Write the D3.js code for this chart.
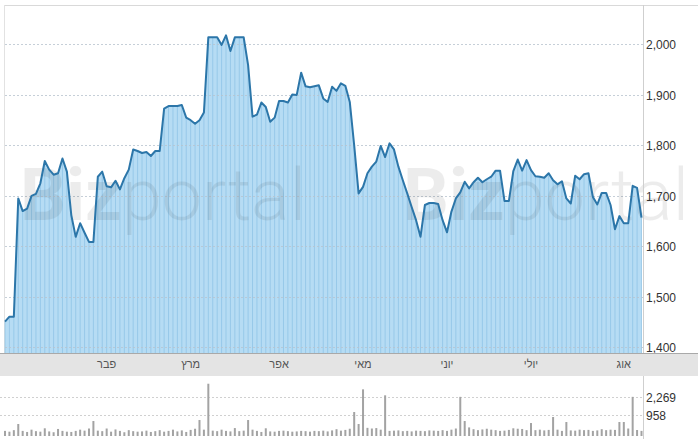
<!DOCTYPE html>
<html><head><meta charset="utf-8">
<script src="https://cdn.jsdelivr.net/npm/d3@7"></script>
<style>body{margin:0;background:#fff;} svg{display:block;}</style>
</head><body><svg id="c" width="698" height="439"></svg>
<script>
const prices = [1451,1461,1461,1695,1670,1675,1700,1704,1725,1769,
 1752,1742,1745,1774,1748,1662,1619,1646,1627,1609,
 1609,1738,1748,1719,1717,1730,1713,1735,1752,1792,
 1789,1785,1787,1779,1789,1789,1873,1878,1878,1878,
 1880,1855,1850,1843,1850,1865,2014,2014,2014,1999,
 2018,1987,2014,2014,2014,1959,1857,1861,1885,1876,
 1847,1855,1888,1888,1885,1901,1900,1944,1917,1915,
 1917,1919,1893,1886,1916,1908,1923,1918,1886,1800,
 1705,1718,1745,1758,1768,1799,1777,1804,1792,1758,
 1731,1705,1678,1652,1619,1682,1686,1686,1684,1652,
 1628,1669,1695,1707,1728,1715,1727,1736,1727,1733,
 1738,1750,1750,1690,1690,1749,1772,1750,1771,1751,
 1739,1738,1736,1745,1731,1723,1729,1695,1685,1740,
 1733,1743,1745,1698,1683,1706,1706,1682,1634,1660,
 1646,1646,1720,1716,1657];
const volumes = [150,120,180,469,150,110,200,140,120,260,
 130,100,230,150,120,110,150,200,160,250,
 630,160,140,250,120,210,150,100,180,140,
 120,130,160,110,140,180,120,150,200,130,
 170,110,190,240,687,200,3335,160,140,200,
 150,130,270,140,160,687,200,150,110,260,
 130,120,150,160,140,120,130,150,140,120,
 150,140,160,130,170,220,160,190,240,1180,
 469,2866,280,250,270,200,2388,150,160,170,
 140,150,130,160,150,140,170,160,150,180,
 150,200,250,2269,630,300,220,180,210,240,
 200,180,150,160,190,260,240,230,180,520,
 180,200,170,190,864,200,150,575,170,160,
 200,180,190,150,170,220,180,200,190,575,
 575,250,2269,186,150];
const priceTicks = [1400,1500,1600,1700,1800,1900,2000];
const volumeTicks = [958, 2269];
const monthLabels = ["פבר","מרץ","אפר","מאי","יוני","יולי","אוג"];
const monthIndex = [23, 42, 62, 81, 100, 119, 140];

const W = 698, H = 439;
const L = 5, R = 643, T = 5, B = 353;
const bandTop = 353, bandBot = 376, vTop = 377, vBot = 436;

const svg = d3.select("#c");
const idx = d3.range(prices.length);
const x = d3.scaleLinear().domain([0, prices.length - 1]).range([L, 641.5]);
const y = d3.scaleLinear().domain([1389, 2078]).range([B, T]);
const yv = d3.scalePow().exponent(0.75).domain([0, 3500]).range([vBot, vBot - 3500 ** 0.75 * 0.1191]);

// frame
svg.append("line").attr("x1", L).attr("x2", W).attr("y1", T + 0.5).attr("y2", T + 0.5).attr("stroke", "#d9d9d9");
svg.append("line").attr("x1", L - 0.5).attr("x2", L - 0.5).attr("y1", T).attr("y2", B).attr("stroke", "#e2e2e2");

// area fill
const area = d3.area().x(i => x(i)).y0(B).y1(i => y(prices[i]));
svg.append("path").datum(idx).attr("d", area).attr("fill", "#b6dcf4");
// stripes
svg.append("g").selectAll("line").data(idx).join("line")
  .attr("x1", i => x(i)).attr("x2", i => x(i))
  .attr("y1", i => y(prices[i])).attr("y2", B)
  .attr("stroke", "#8ec3e6").attr("stroke-width", 1).attr("opacity", 0.75);

// gridlines
svg.append("g").selectAll("line").data(priceTicks).join("line")
  .attr("x1", L).attr("x2", R).attr("y1", d => Math.round(y(d)) + 0.5).attr("y2", d => Math.round(y(d)) + 0.5)
  .attr("stroke", "#b8c4cf").attr("stroke-dasharray", "2,2").attr("opacity", 0.8);

// watermark
[[20, 0], [403, 0]].forEach(([wx]) => {
  const t = svg.append("text").attr("x", wx).attr("y", 220).attr("font-family", "Roboto, 'Liberation Sans', sans-serif")
    .attr("font-size", 72).attr("fill", "#000").attr("opacity", 0.07);
  t.append("tspan").attr("font-weight", 700).text("Biz");
  t.append("tspan").attr("font-weight", 300).text("portal");
});

// line
const line = d3.line().x(i => x(i)).y(i => y(prices[i]));
svg.append("path").datum(idx).attr("d", line).attr("fill", "none").attr("stroke", "#2c76a9").attr("stroke-width", 2).attr("stroke-linejoin", "round");

// right axis
svg.append("line").attr("x1", R + 0.5).attr("x2", R + 0.5).attr("y1", T).attr("y2", B).attr("stroke", "#cfcfcf");
const yAxis = d3.axisRight(y).tickValues(priceTicks).tickSize(0).tickPadding(3).tickFormat(d3.format(","));
const ga = svg.append("g").attr("transform", `translate(${R},0)`).call(yAxis);
ga.select(".domain").remove();
ga.selectAll("text").attr("font-family", "Arial, 'Liberation Sans', sans-serif").attr("font-size", 12).attr("fill", "#333").attr("dy", "0.35em");

// month band
svg.append("rect").attr("x", 0).attr("y", bandTop).attr("width", W).attr("height", bandBot - bandTop).attr("fill", "#e4e4e4");
svg.append("line").attr("x1", 0).attr("x2", W).attr("y1", bandTop + 0.5).attr("y2", bandTop + 0.5).attr("stroke", "#a9a9a9");
svg.append("g").selectAll("text").data(monthLabels).join("text")
  .attr("x", (d, k) => x(monthIndex[k])).attr("y", 368)
  .attr("text-anchor", "middle").attr("font-family", "Arial, 'Liberation Sans', sans-serif").attr("font-size", 11).attr("fill", "#555")
  .text(d => d);

// volume panel
svg.append("line").attr("x1", R + 0.5).attr("x2", R + 0.5).attr("y1", bandBot).attr("y2", H).attr("stroke", "#cfcfcf");
svg.append("g").selectAll("line").data(volumeTicks).join("line")
  .attr("x1", 0).attr("x2", R).attr("y1", d => Math.round(yv(d)) + 0.5).attr("y2", d => Math.round(yv(d)) + 0.5)
  .attr("stroke", "#d0d0d0").attr("stroke-dasharray", "2,2");
svg.append("g").selectAll("rect").data(idx).join("rect")
  .attr("x", i => x(i) - 1).attr("width", 2)
  .attr("y", i => yv(volumes[i])).attr("height", i => vBot - yv(volumes[i]))
  .attr("fill", "#a3a3a3");
const va = svg.append("g").attr("transform", `translate(${R},0)`).call(d3.axisRight(yv).tickValues(volumeTicks).tickSize(0).tickPadding(3).tickFormat(d3.format(",")));
va.select(".domain").remove();
va.selectAll("text").attr("font-family", "Arial, 'Liberation Sans', sans-serif").attr("font-size", 12).attr("fill", "#333").attr("dy", "0.35em");
</script></body></html>
